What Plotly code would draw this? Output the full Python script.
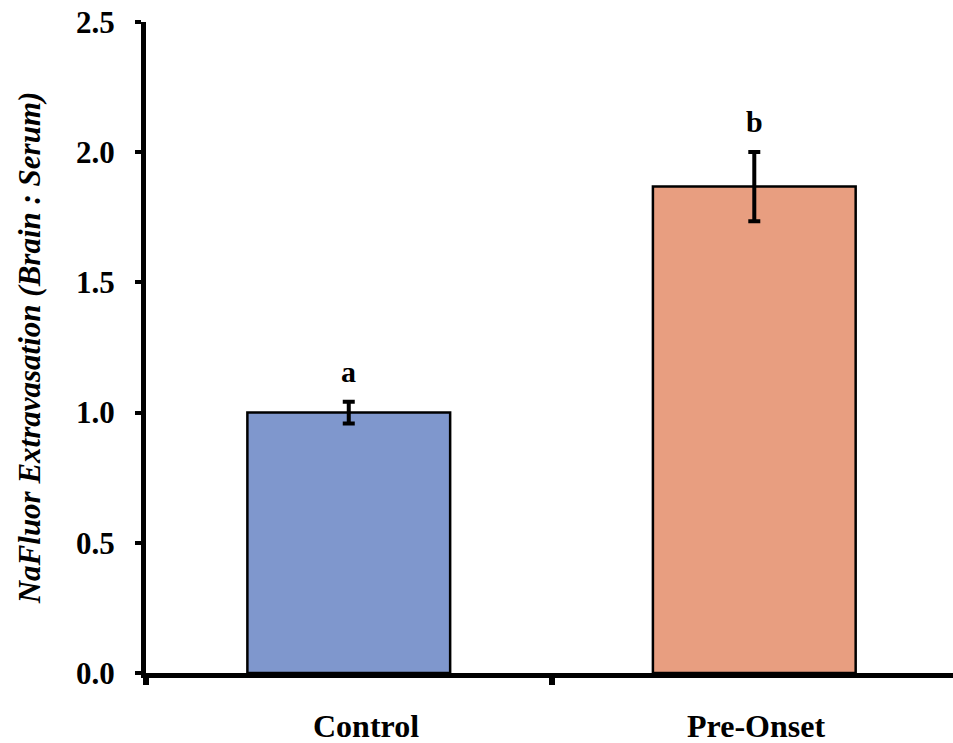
import plotly.graph_objects as go

groups = ["Control", "Pre-Onset"]
means = [1.0, 1.868]
errors = [0.042, 0.133]
letters = ["a", "b"]
colors = ["#7F97CD", "#E89E80"]
y_ticks = [0.0, 0.5, 1.0, 1.5, 2.0, 2.5]
label_shift = [17, 2]

FONT = "Liberation Serif"

fig = go.Figure()
fig.add_trace(go.Bar(
    x=groups,
    y=means,
    width=0.5,
    marker=dict(color=colors, line=dict(color="black", width=2.5)),
    error_y=dict(type="data", array=errors, visible=True,
                 color="black", thickness=4, width=6),
    showlegend=False,
))

# significance letters above the error bars
for g, m, e, t in zip(groups, means, errors, letters):
    fig.add_annotation(x=g, y=m + e, text=t, showarrow=False, yshift=30,
                       font=dict(family=FONT, size=30, color="black", weight="bold"))

# group names below the axis
for g, s in zip(groups, label_shift):
    fig.add_annotation(x=g, y=0, yref="y", text=g, showarrow=False,
                       xshift=s, yshift=-53, yanchor="middle",
                       font=dict(family=FONT, size=32, color="black", weight="bold"))

fig.update_layout(
    width=953, height=743,
    margin=dict(l=146, r=0, t=22, b=70),
    paper_bgcolor="white", plot_bgcolor="white",
    font=dict(family=FONT, color="black"),
)
fig.update_xaxes(
    type="category",
    range=[-0.5, 1.49],
    showline=True, linecolor="black", linewidth=5,
    showgrid=False, zeroline=False,
    ticks="outside", tickson="boundaries", ticklen=7, tickwidth=6, tickcolor="black",
    showticklabels=False,
)
fig.update_yaxes(
    range=[0, 2.5],
    tickvals=y_ticks, tickformat=".1f",
    showline=True, linecolor="black", linewidth=5,
    showgrid=False, zeroline=False,
    ticks="outside", ticklen=6, tickwidth=4, tickcolor="black",
    tickfont=dict(family=FONT, size=31, weight="bold"),
    ticklabelstandoff=14,
    title=dict(text="<i>NaFluor Extravasation (Brain : Serum)</i>",
               font=dict(family=FONT, size=31, weight="bold"), standoff=28),
)

fig.write_html("out.html")
